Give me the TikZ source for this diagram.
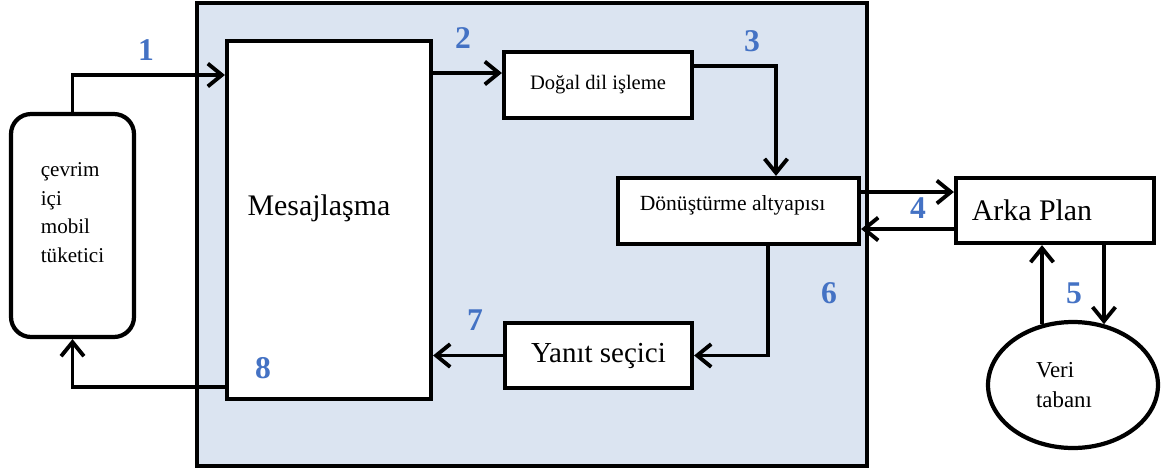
\documentclass[tikz,border=0pt]{standalone}
\usepackage{fontspec}
\setmainfont{Liberation Serif}
\usetikzlibrary{arrows.meta, positioning, shapes.geometric}
\definecolor{panelblue}{RGB}{219,228,241}
\definecolor{numblue}{RGB}{68,114,196}
\tikzset{node distance=2cm, auto}
\tikzset{
  box/.style={draw, line width=2.4pt, fill=white, inner sep=0pt},
  flow/.style={line width=2.2pt, -{Straight Barb[length=8pt,width=13pt]}},
  num/.style={text=numblue, font=\fontsize{18}{18}\selectfont\bfseries}
}

\begin{document}
\begin{tikzpicture}[x=0.02cm, y=-0.02cm]
  \useasboundingbox (0,0) rectangle (1163,471);
  \draw[line width=2pt, fill=panelblue] (197,3) rectangle (867,466);

  \node[box, rounded corners=0.4cm, minimum width=2.46cm, minimum height=4.46cm] (cons) at (72.5,225.5) {};
  \node[align=left, font=\fontsize{12}{16.2}\selectfont] (constxt) at ([yshift=0.26cm]cons.center) {çevrim\\içi\\mobil\\tüketici};
  \node[box, minimum width=4.08cm, minimum height=7.16cm] (msg) at (329,220) {};
  \node[font=\fontsize{17}{18}\selectfont] (msgtxt) at ([yshift=0.24cm, xshift=-0.2cm]msg.center) {Mesajlaşma};
  \node[box, minimum width=3.76cm, minimum height=1.32cm, font=\fontsize{11.7}{14}\selectfont] (nlp) at (598,85) {Doğal dil işleme};
  \node[box, minimum width=4.82cm, minimum height=1.32cm] (conv) at (738.5,211) {};
  \node[font=\fontsize{12.3}{14}\selectfont] (convtxt) at ([yshift=0.12cm, xshift=-0.12cm]conv.center) {Dönüştürme altyapısı};
  \node[box, minimum width=3.96cm, minimum height=1.30cm] (back) at (1055,210.5) {};
  \node[font=\fontsize{17}{18}\selectfont] (backtxt) at ([xshift=-0.46cm]back.center) {Arka Plan};
  \node[box, minimum width=3.74cm, minimum height=1.30cm, font=\fontsize{16.5}{18}\selectfont] (sel) at (598.5,355.5) {Yanıt seçici};
  \node[box, ellipse, minimum width=3.4cm, minimum height=2.52cm] (db) at (1073,385) {};
  \node[align=left, font=\fontsize{13}{17}\selectfont] (dbtxt) at ([xshift=-0.18cm]db.center) {Veri\\tabanı};

  \draw[flow] (cons.north) |- (msg.west |- 0,75);
  \draw[flow] (msg.west |- 0,387) -| (cons.south);
  \draw[flow] (msg.east |- 0,73) -- (nlp.west |- 0,73);
  \draw[flow] (nlp.east |- 0,66) -| (conv.north -| 776,0);
  \draw[flow] (conv.east |- 0,192) -- (back.west |- 0,192);
  \draw[flow] (back.west |- 0,229) -- (conv.east |- 0,229);
  \draw[flow] (db.117) -- (db.117 |- back.south);
  \draw[flow] (back.south -| db.63) -- (db.63);
  \draw[flow] (conv.south -| 768,0) |- (sel.east);
  \draw[flow] (sel.west) -- (msg.east |- sel.west);

  \node[num] (n1) at (146,50) {1};
  \node[num] (n2) at (463,38) {2};
  \node[num] (n3) at (752,41) {3};
  \node[num] (n4) at (918,208) {4};
  \node[num] (n5) at (1074,293) {5};
  \node[num] (n6) at (829,293) {6};
  \node[num] (n7) at (475,320) {7};
  \node[num] (n8) at (263,368) {8};
\end{tikzpicture}
\end{document}
